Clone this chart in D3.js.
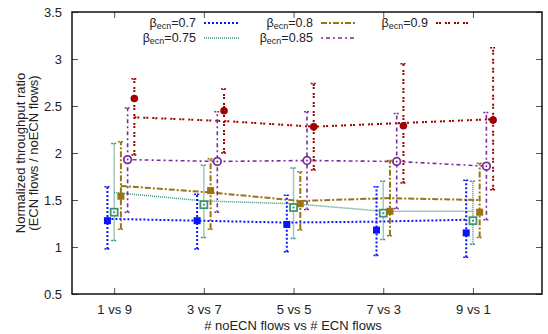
<!DOCTYPE html>
<html>
<head>
<meta charset="utf-8">
<script src="https://cdn.jsdelivr.net/npm/d3@7"></script>
<style>
body { margin: 0; background: #fff; }
text { font-family: "Liberation Sans", Arial, sans-serif; fill: #222; }
</style>
</head>
<body>
<script>
const categories = ['1 vs 9', '3 vs 7', '5 vs 5', '7 vs 3', '9 vs 1']
const betas = ['0.7', '0.75', '0.8', '0.85', '0.9']
const yTicks = [0.5, 1, 1.5, 2, 2.5, 3, 3.5]

// mean lines
const line07 = [1.30, 1.28, 1.26, 1.27, 1.29]
const line075 = [1.58, 1.49, 1.46, 1.38, 1.38]
const line08 = [1.65, 1.58, 1.49, 1.52, 1.50]
const line085 = [1.93, 1.91, 1.92, 1.91, 1.86]
const line09 = [2.38, 2.34, 2.28, 2.32, 2.36]

// points with error bars
const pt07 = [1.28, 1.28, 1.24, 1.18, 1.15]
const lo07 = [0.98, 0.98, 0.95, 0.91, 0.89]
const hi07 = [1.64, 1.56, 1.55, 1.64, 1.71]
const pt075 = [1.37, 1.45, 1.42, 1.36, 1.28]
const lo075 = [1.07, 1.10, 1.09, 1.08, 1.03]
const hi075 = [2.10, 1.87, 1.84, 1.70, 1.70]
const pt08 = [1.54, 1.60, 1.46, 1.38, 1.37]
const lo08 = [1.19, 1.19, 1.18, 1.12, 1.10]
const hi08 = [2.12, 1.94, 1.80, 1.92, 1.89]
const pt085 = [1.93, 1.91, 1.92, 1.91, 1.86]
const lo085 = [1.37, 1.37, 1.40, 1.41, 1.29]
const hi085 = [2.48, 2.44, 2.44, 2.42, 2.43]
const pt09 = [2.58, 2.45, 2.28, 2.29, 2.35]
const lo09 = [1.98, 2.00, 1.82, 1.68, 1.61]
const hi09 = [2.79, 2.68, 2.74, 2.95, 3.12]

const series = [
  {beta: betas[0], line: line07, pt: pt07, lo: lo07, hi: hi07, color: '#0a14ff', dash: '2,2', w: 2, marker: 'fsq', off: -0.075},
  {beta: betas[1], line: line075, pt: pt075, lo: lo075, hi: hi075, color: '#3f9476', dash: '1,1', w: 1.5, marker: 'osq', off: 0},
  {beta: betas[2], line: line08, pt: pt08, lo: lo08, hi: hi08, color: '#9a7414', dash: '6,2,2,2', w: 2, marker: 'fsq', off: 0.075},
  {beta: betas[3], line: line085, pt: pt085, lo: lo085, hi: hi085, color: '#7b2e9a', dash: '2,3,4,3', w: 1.6, marker: 'ocir', off: 0.15},
  {beta: betas[4], line: line09, pt: pt09, lo: lo09, hi: hi09, color: '#a00000', dash: '2,1,2,4', w: 2, marker: 'fcir', off: 0.225}
]

const W = 548, H = 334
const L = 72, R = 542, T = 12, B = 294

const svg = d3.select('body').append('svg').attr('width', W).attr('height', H)

const x = d3.scaleLinear().domain([-0.47, 4.77]).range([L, R])
const y = d3.scaleLinear().domain([0.5, 3.5]).range([B, T])

// axes
const axisG = svg.append('g')
const tickLen = 6
axisG.append('g').attr('transform', `translate(0,${B})`)
  .call(d3.axisBottom(x).tickValues(d3.range(categories.length)).tickFormat(i => categories[i]).tickSize(-tickLen).tickPadding(11))
axisG.append('g').attr('transform', `translate(0,${T})`)
  .call(d3.axisTop(x).tickValues(d3.range(categories.length)).tickFormat('').tickSize(-tickLen))
axisG.append('g').attr('transform', `translate(${L},0)`)
  .call(d3.axisLeft(y).tickValues(yTicks).tickFormat(d3.format('')).tickSize(-tickLen).tickPadding(10))
axisG.append('g').attr('transform', `translate(${R},0)`)
  .call(d3.axisRight(y).tickValues(yTicks).tickFormat('').tickSize(-tickLen))
axisG.selectAll('.domain').remove()
axisG.selectAll('.tick line').attr('stroke', '#555')
axisG.selectAll('.tick text').attr('font-size', 13).attr('fill', '#222')
  .style('font-family', '"Liberation Sans", Arial, sans-serif')

svg.append('rect').attr('x', L).attr('y', T).attr('width', R - L).attr('height', B - T)
  .attr('fill', 'none').attr('stroke', '#111').attr('stroke-width', 1.5)

// titles
svg.append('text').attr('x', 293).attr('y', 330).attr('text-anchor', 'middle').attr('font-size', 13)
  .text('# noECN flows vs # ECN flows')
const yt = svg.append('text').attr('transform', 'translate(25,153) rotate(-90)').attr('text-anchor', 'middle').attr('font-size', 13)
yt.append('tspan').attr('x', 0).attr('dy', 0).text('Normalized throughput ratio')
yt.append('tspan').attr('x', 0).attr('dy', 13).text('(ECN flows / noECN flows)')

// lines
const lineGen = (s) => d3.line().x((d, i) => x(i + s.off)).y(d => y(d))
const plot = svg.append('g')
series.forEach(s => {
  plot.append('path').datum(s.line)
    .attr('d', lineGen(s))
    .attr('fill', 'none').attr('stroke', s.color).attr('stroke-width', s.w)
    .attr('stroke-dasharray', s.dash)
})

// error bars + markers
series.forEach(s => {
  const g = plot.append('g')
  const idx = d3.range(s.pt.length)
  g.selectAll('line.v').data(idx).join('line')
    .attr('x1', i => x(i + s.off)).attr('x2', i => x(i + s.off))
    .attr('y1', i => y(s.lo[i])).attr('y2', i => y(s.hi[i]))
    .attr('stroke', s.color).attr('stroke-width', s.w).attr('stroke-dasharray', s.dash)
  ;['lo', 'hi'].forEach(k => {
    g.selectAll('line.' + k).data(idx).join('line').attr('class', k)
      .attr('x1', i => x(i + s.off) - 3).attr('x2', i => x(i + s.off) + 3)
      .attr('y1', i => y(s[k][i])).attr('y2', i => y(s[k][i]))
      .attr('stroke', s.color).attr('stroke-width', 1.5).attr('stroke-dasharray', '2,1')
  })
  const cx = i => x(i + s.off), cy = i => y(s.pt[i])
  if (s.marker === 'fsq') {
    g.selectAll('rect.m').data(idx).join('rect').attr('class', 'm')
      .attr('x', i => cx(i) - 3.5).attr('y', i => cy(i) - 3.5).attr('width', 7).attr('height', 7)
      .attr('fill', s.color)
  } else if (s.marker === 'osq') {
    g.selectAll('rect.m').data(idx).join('rect').attr('class', 'm')
      .attr('x', i => cx(i) - 3.5).attr('y', i => cy(i) - 3.5).attr('width', 7).attr('height', 7)
      .attr('fill', '#fff').attr('stroke', s.color).attr('stroke-width', 1.8)
    g.selectAll('rect.d').data(idx).join('rect').attr('class', 'd')
      .attr('x', i => cx(i) - 1).attr('y', i => cy(i) - 1).attr('width', 2).attr('height', 2)
      .attr('fill', s.color)
  } else if (s.marker === 'ocir') {
    g.selectAll('circle.m').data(idx).join('circle').attr('class', 'm')
      .attr('cx', cx).attr('cy', cy).attr('r', 3.8)
      .attr('fill', '#fff').attr('stroke', s.color).attr('stroke-width', 1.8)
    g.selectAll('circle.d').data(idx).join('circle').attr('class', 'd')
      .attr('cx', cx).attr('cy', cy).attr('r', 1).attr('fill', s.color)
  } else {
    g.selectAll('circle.m').data(idx).join('circle').attr('class', 'm')
      .attr('cx', cx).attr('cy', cy).attr('r', 3.8).attr('fill', s.color)
  }
})

// legend
const legendPos = [[196, 23], [196, 38], [313, 23], [313, 38], [428, 23]]
const leg = svg.append('g')
series.forEach((s, k) => {
  const [lx, ly] = legendPos[k]
  const t = leg.append('text').attr('x', lx).attr('y', ly + 4).attr('text-anchor', 'end').attr('font-size', 12.5)
  t.append('tspan').text('\u03b2')
  t.append('tspan').attr('font-size', 9).attr('dy', 2).text('ecn')
  t.append('tspan').attr('dy', -2).text('=' + s.beta)
  leg.append('line').attr('x1', lx + 8).attr('x2', lx + 44).attr('y1', ly).attr('y2', ly)
    .attr('stroke', s.color).attr('stroke-width', s.w).attr('stroke-dasharray', s.dash)
})
</script>
</body>
</html>
